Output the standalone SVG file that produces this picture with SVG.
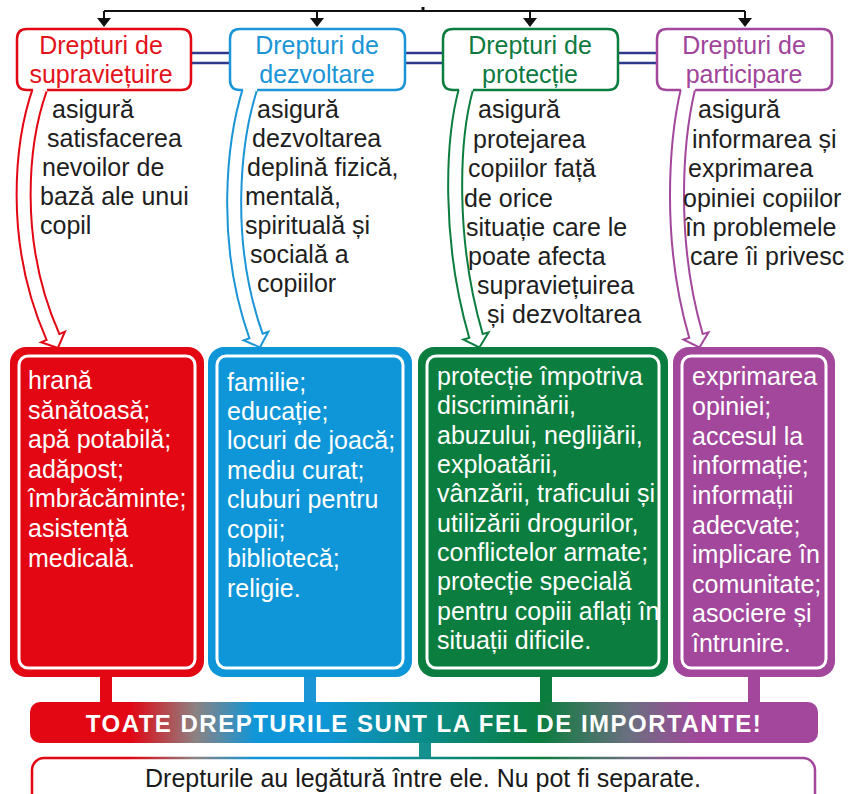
<svg xmlns="http://www.w3.org/2000/svg" width="850" height="794" viewBox="0 0 850 794">
<defs>
<linearGradient id="bar" gradientUnits="userSpaceOnUse" x1="30" y1="0" x2="818" y2="0">
<stop offset="0" stop-color="#e30613"/>
<stop offset="0.127" stop-color="#e30613"/>
<stop offset="0.21" stop-color="#8c8282"/>
<stop offset="0.286" stop-color="#0f96d8"/>
<stop offset="0.37" stop-color="#0f96d8"/>
<stop offset="0.495" stop-color="#0a8c8c"/>
<stop offset="0.647" stop-color="#0b7d3e"/>
<stop offset="0.76" stop-color="#6a6f80"/>
<stop offset="0.85" stop-color="#a2479b"/>
<stop offset="1" stop-color="#a2479b"/>
</linearGradient>
<style>
text{font-family:"Liberation Sans",Arial,sans-serif;}
.hdr{fill:#fff;stroke-width:2.5;}
.ht{font-size:25px;text-anchor:middle;}
.desc{font-size:25px;fill:#1e1e1e;}
.ct{font-size:25px;fill:#fff;}
.inner{fill:none;stroke:#fff;stroke-width:3;}
.nav{stroke:#2e3b8c;stroke-width:2.5;fill:none;}
.shaft{fill:none;stroke-width:16;}
.shaftw{fill:none;stroke:#fff;stroke-width:12;}
.head{fill:#fff;stroke-width:2;}
.red{stroke:#e30613;}
.blue{stroke:#1b95d5;}
.green{stroke:#0b7d3e;}
.purple{stroke:#a2479b;}
</style>
</defs>
<rect width="850" height="794" fill="#fff"/>

<g id="connectors">
  <g stroke="#111" stroke-width="2" fill="none">
    <path d="M104 11 H745 M104 11 V19 M317 11 V19 M530 11 V19 M745 11 V19"/>
    <path d="M423 7 V11" stroke-width="3"/>
  </g>
  <g fill="#111">
    <polygon points="97,18 111,18 104,27"/>
    <polygon points="310,18 324,18 317,27"/>
    <polygon points="523,18 537,18 530,27"/>
    <polygon points="738,18 752,18 745,27"/>
  </g>
  <path class="nav" d="M191 53 H230 M191 63 H230 M405 53 H443 M405 63 H443 M618 53 H657 M618 63 H657"/>

  <path class="shaft red" d="M40 89 C22 140 10 240 53 337"/>
  <polygon class="head red" points="41.1,342.3 57.9,348 64.9,331.7"/>
  <path class="shaftw" d="M40 89 C22 140 10 240 53 337 L54.2 339.7"/>

  <path class="shaft blue" d="M250 89 C234 140 222 240 256 336"/>
  <polygon class="head blue" points="243.7,340.3 260,347.3 268.3,331.7"/>
  <path class="shaftw" d="M250 89 C234 140 222 240 256 336 L257 338.8"/>

  <path class="shaft green" d="M466 89 C452 140 448 240 476 336"/>
  <polygon class="head green" points="463.5,339.6 479.4,347.5 488.5,332.4"/>
  <path class="shaftw" d="M466 89 C452 140 448 240 476 336 L476.8 338.9"/>

  <path class="shaft purple" d="M688 89 C676 140 668 240 696 336"/>
  <polygon class="head purple" points="683.5,339.6 699.4,347.5 708.5,332.4"/>
  <path class="shaftw" d="M688 89 C676 140 668 240 696 336 L696.8 338.9"/>

  <rect x="100" y="674" width="12" height="30" fill="#e30613"/>
  <rect x="304" y="674" width="12" height="30" fill="#1b95d5"/>
  <rect x="540" y="674" width="12" height="30" fill="#0b7d3e"/>
  <rect x="748" y="674" width="12" height="30" fill="#a2479b"/>
  <rect x="419" y="741" width="12" height="19" fill="#14908e"/>
</g>

<g id="hdr-survival">
  <path class="hdr red" d="M33 90 H27 Q17 90 17 80 V39 Q17 29 27 29 H181 Q191 29 191 39 V80 Q191 90 181 90 H47"/>
  <text class="ht" x="101" y="54" fill="#e3131b">Drepturi de</text>
  <text class="ht" x="101" y="83" fill="#e3131b">supraviețuire</text>
</g>
<g id="hdr-development">
  <path class="hdr blue" d="M243 90 H240 Q230 90 230 80 V39 Q230 29 240 29 H395 Q405 29 405 39 V80 Q405 90 395 90 H257"/>
  <text class="ht" x="317" y="54" fill="#1b95d5">Drepturi de</text>
  <text class="ht" x="317" y="83" fill="#1b95d5">dezvoltare</text>
</g>
<g id="hdr-protection">
  <path class="hdr green" d="M459 90 H453 Q443 90 443 80 V39 Q443 29 453 29 H608 Q618 29 618 39 V80 Q618 90 608 90 H473"/>
  <text class="ht" x="530" y="54" fill="#0e7a3f">Drepturi de</text>
  <text class="ht" x="530" y="83" fill="#0e7a3f">protecție</text>
</g>
<g id="hdr-participation">
  <path class="hdr purple" d="M681 90 H667 Q657 90 657 80 V39 Q657 29 667 29 H822 Q832 29 832 39 V80 Q832 90 822 90 H695"/>
  <text class="ht" x="744" y="54" fill="#a0459a">Drepturi de</text>
  <text class="ht" x="744" y="83" fill="#a0459a">participare</text>
</g>

<g id="desc-survival" class="desc">
  <text x="52" y="118">asigură</text>
  <text x="47" y="147">satisfacerea</text>
  <text x="42" y="176">nevoilor de</text>
  <text x="40" y="205">bază ale unui</text>
  <text x="40" y="234">copil</text>
</g>
<g id="desc-development" class="desc">
  <text x="257" y="118">asigură</text>
  <text x="252" y="147">dezvoltarea</text>
  <text x="247" y="176">deplină fizică,</text>
  <text x="245" y="205">mentală,</text>
  <text x="245" y="234">spirituală și</text>
  <text x="250" y="263">socială a</text>
  <text x="257" y="292">copiilor</text>
</g>
<g id="desc-protection" class="desc">
  <text x="478" y="118">asigură</text>
  <text x="473" y="147.5">protejarea</text>
  <text x="468" y="177">copiilor față</text>
  <text x="464" y="206.5">de orice</text>
  <text x="466" y="236">situație care le</text>
  <text x="468" y="265">poate afecta</text>
  <text x="477" y="294">supraviețuirea</text>
  <text x="487" y="323">și dezvoltarea</text>
</g>
<g id="desc-participation" class="desc">
  <text x="698" y="118">asigură</text>
  <text x="692" y="147.5">informarea și</text>
  <text x="688" y="177">exprimarea</text>
  <text x="683" y="206.5">opiniei copiilor</text>
  <text x="685" y="236">în problemele</text>
  <text x="690" y="265">care îi privesc</text>
</g>

<g id="box-survival">
  <rect x="10" y="347" width="194" height="330" rx="16" fill="#e30613"/>
  <rect class="inner" x="19" y="356" width="176" height="312" rx="9"/>
  <g class="ct">
    <text x="28" y="389">hrană</text>
    <text x="28" y="419">sănătoasă;</text>
    <text x="28" y="448">apă potabilă;</text>
    <text x="28" y="478">adăpost;</text>
    <text x="28" y="507">îmbrăcăminte;</text>
    <text x="28" y="537">asistență</text>
    <text x="28" y="567">medicală.</text>
  </g>
</g>
<g id="box-development">
  <rect x="208" y="347" width="204" height="330" rx="16" fill="#0f96d8"/>
  <rect class="inner" x="217" y="356" width="186" height="312" rx="9"/>
  <g class="ct">
    <text x="227" y="391">familie;</text>
    <text x="227" y="420">educație;</text>
    <text x="227" y="449">locuri de joacă;</text>
    <text x="227" y="479">mediu curat;</text>
    <text x="227" y="508">cluburi pentru</text>
    <text x="227" y="538">copii;</text>
    <text x="227" y="567">bibliotecă;</text>
    <text x="227" y="597">religie.</text>
  </g>
</g>
<g id="box-protection">
  <rect x="418" y="347" width="250" height="330" rx="16" fill="#0b7d3e"/>
  <rect class="inner" x="427" y="356" width="232" height="312" rx="9"/>
  <g class="ct">
    <text x="437" y="385">protecție împotriva</text>
    <text x="437" y="414">discriminării,</text>
    <text x="437" y="443.5">abuzului, neglijării,</text>
    <text x="437" y="473">exploatării,</text>
    <text x="437" y="502">vânzării, traficului și</text>
    <text x="437" y="531.5">utilizării drogurilor,</text>
    <text x="437" y="561">conflictelor armate;</text>
    <text x="437" y="590">protecție specială</text>
    <text x="437" y="619.5">pentru copiii aflați în</text>
    <text x="437" y="649">situații dificile.</text>
  </g>
</g>
<g id="box-participation">
  <rect x="673" y="347" width="162" height="330" rx="16" fill="#a2479b"/>
  <rect class="inner" x="682" y="356" width="144" height="312" rx="9"/>
  <g class="ct">
    <text x="692" y="385">exprimarea</text>
    <text x="692" y="415">opiniei;</text>
    <text x="692" y="445">accesul la</text>
    <text x="692" y="474">informație;</text>
    <text x="692" y="504">informații</text>
    <text x="692" y="534">adecvate;</text>
    <text x="692" y="563">implicare în</text>
    <text x="692" y="593">comunitate;</text>
    <text x="692" y="622">asociere și</text>
    <text x="692" y="652">întrunire.</text>
  </g>
</g>

<g id="bar-important">
  <rect x="30" y="702" width="788" height="41" rx="10" fill="url(#bar)"/>
  <text x="424" y="732" text-anchor="middle" font-size="24" font-weight="bold" letter-spacing="1.5" fill="#fff">TOATE DREPTURILE SUNT LA FEL DE IMPORTANTE!</text>
</g>
<g id="note-inseparable">
  <rect x="32" y="758" width="783" height="60" rx="12" fill="#fff" stroke="url(#bar)" stroke-width="2.5"/>
  <text x="423" y="787" text-anchor="middle" font-size="25" fill="#1a1a1a">Drepturile au legătură între ele. Nu pot fi separate.</text>
</g>
</svg>
